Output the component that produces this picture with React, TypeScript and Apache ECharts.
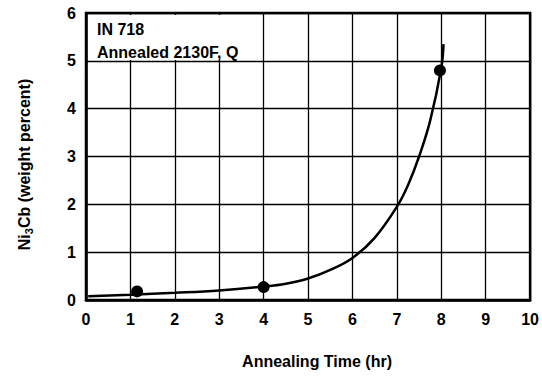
import React, { useEffect, useRef } from "react";
import * as echarts from "echarts";

const curveX = [0.05, 1, 2, 3, 4, 4.5, 5, 5.5, 6, 6.5, 7, 7.25, 7.5, 7.75, 8, 8.05];
const curveY = [0.08, 0.11, 0.15, 0.2, 0.28, 0.34, 0.45, 0.63, 0.88, 1.3, 1.95, 2.4, 3.0, 3.75, 4.85, 5.35];
const pointX = [1.15, 4, 7.97];
const pointY = [0.18, 0.27, 4.8];
const xTicks = [0, 1, 2, 3, 4, 5, 6, 7, 8, 9, 10];
const yTicks = [0, 1, 2, 3, 4, 5, 6];
const noteLines = ["IN 718", "Annealed 2130F, Q"];

const FONT = "'Liberation Sans', Arial, sans-serif";

export default function App() {
  const ref = useRef<HTMLDivElement>(null);
  useEffect(() => {
    const chart = echarts.init(ref.current!, null, { renderer: "svg" });
    chart.setOption({
      animation: false,
      backgroundColor: "#fff",
      grid: {
        left: 86,
        top: 13,
        right: 7,
        bottom: 77,
        show: true,
        borderColor: "#000",
        borderWidth: 2.5,
      },
      xAxis: {
        type: "value",
        min: xTicks[0],
        max: xTicks[xTicks.length - 1],
        interval: 1,
        name: "Annealing Time (hr)",
        nameLocation: "middle",
        nameGap: 53,
        nameTextStyle: { fontFamily: FONT, fontWeight: "bold", fontSize: 16, color: "#000", padding: [0, 0, 0, 18] },
        axisLine: { show: true, lineStyle: { color: "#000", width: 2.5 } },
        axisTick: { show: false },
        axisLabel: { fontFamily: FONT, fontWeight: "bold", fontSize: 16, color: "#000", margin: 11 },
        splitLine: { show: true, lineStyle: { color: "#000", width: 1.3 } },
      },
      yAxis: {
        type: "value",
        min: yTicks[0],
        max: yTicks[yTicks.length - 1],
        interval: 1,
        name: "Ni{sub|3}Cb (weight percent)",
        nameLocation: "middle",
        nameRotate: 90,
        nameGap: 52,
        nameTextStyle: {
          fontFamily: FONT,
          fontWeight: "bold",
          fontSize: 16,
          color: "#000",
          padding: [0, 16, 0, 0],
          rich: {
            sub: { fontFamily: FONT, fontWeight: "bold", fontSize: 11, color: "#000", verticalAlign: "bottom", padding: [8, 0, 0, 0] },
          },
        },
        axisLine: { show: true, lineStyle: { color: "#000", width: 2.5 } },
        axisTick: { show: false },
        axisLabel: { fontFamily: FONT, fontWeight: "bold", fontSize: 16, color: "#000", margin: 10 },
        splitLine: { show: true, lineStyle: { color: "#000", width: 1.3 } },
      },
      graphic: [
        {
          type: "rect",
          z: 10,
          shape: { x: 88, y: 15, width: 153, height: 45 },
          style: { fill: "#fff" },
        },
        {
          type: "text",
          z: 11,
          left: 97,
          top: 21,
          style: { text: noteLines[0], fontFamily: FONT, fontSize: 16, fill: "#000", fontWeight: "bold" },
        },
        {
          type: "text",
          z: 11,
          left: 97,
          top: 44,
          style: { text: noteLines[1], fontFamily: FONT, fontSize: 16, fill: "#000", fontWeight: "bold" },
        },
      ],
      series: [
        {
          type: "line",
          data: curveX.map((x, i) => [x, curveY[i]]),
          smooth: 0.4,
          showSymbol: false,
          lineStyle: { color: "#000", width: 2.5 },
          z: 3,
        },
        {
          type: "scatter",
          data: pointX.map((x, i) => [x, pointY[i]]),
          symbolSize: 12,
          itemStyle: { color: "#000", opacity: 1 },
          z: 4,
        },
      ],
    });
    return () => chart.dispose();
  }, []);
  return <div ref={ref} style={{ width: 542, height: 377, position: "absolute", left: 0, top: 0 }} />;
}
